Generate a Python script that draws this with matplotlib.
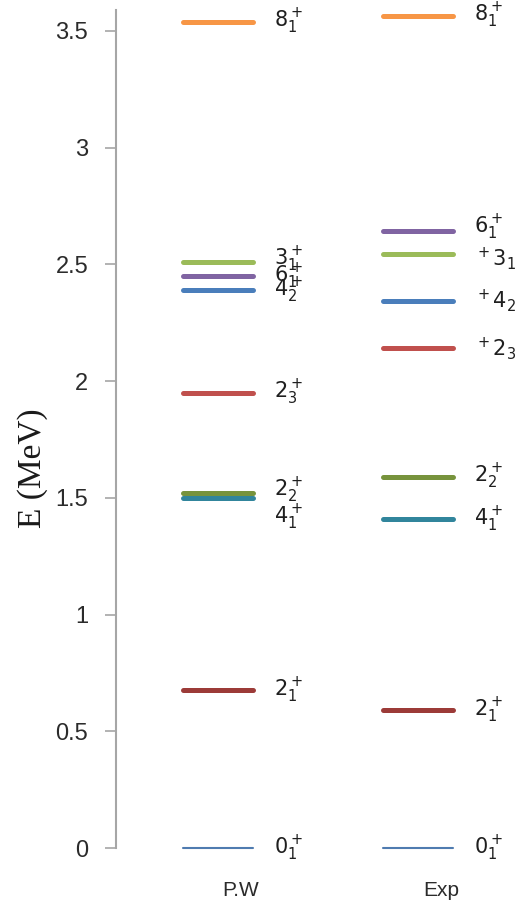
import matplotlib
matplotlib.use('Agg')
import matplotlib.pyplot as plt

# levels, MeV
states = ['0_1', '2_1', '4_1', '2_2', '2_3', '4_2', '6_1', '3_1', '8_1']
pw_energy = [0.0, 0.677, 1.50, 1.52, 1.95, 2.39, 2.45, 2.51, 3.54]
exp_energy = [0.0, 0.591, 1.41, 1.59, 2.14, 2.345, 2.645, 2.545, 3.565]
pw_labels = [r'$0_1^+$', r'$2_1^+$', r'$4_1^+$', r'$2_2^+$', r'$2_3^+$',
             r'$4_2^+$', r'$6_1^+$', r'$3_1^+$', r'$8_1^+$']
exp_labels = [r'$0_1^+$', r'$2_1^+$', r'$4_1^+$', r'$2_2^+$', r'$^+2_3$',
              r'$^+4_2$', r'$6_1^+$', r'$^+3_1$', r'$8_1^+$']
columns = ['P.W', 'Exp']

colors = ['#4F7BB0', '#9C3B38', '#31859C', '#77933C', '#C0504D',
          '#4A7EBB', '#8064A2', '#9BBB59', '#F79646']
widths = [1.5, 3.6, 3.6, 3.6, 3.6, 3.6, 3.6, 3.6, 3.6]
# small label nudges (points) where the original labels were moved
pw_nudge = [0, 0, -14, 2, 0, 0, 0, 2, 0]
exp_nudge = [0, 0, 0, 0, 0, 0, 2, -3, 0]

plt.rcParams['mathtext.fontset'] = 'dejavusans'

fig = plt.figure(figsize=(5.2, 9.06), dpi=100)
ax = fig.add_axes([0.223, 0.064, 0.777, 0.925])

for col, (energies, labels, nudges) in enumerate(
        [(pw_energy, pw_labels, pw_nudge), (exp_energy, exp_labels, exp_nudge)]):
    xc = col + 1
    for e, lab, c, w, dy in zip(energies, labels, colors, widths, nudges):
        ax.plot([xc - 0.29, xc + 0.06], [e, e], color=c, lw=w,
                solid_capstyle='round', clip_on=False)
        ax.annotate(lab, xy=(xc + 0.165, e), xytext=(0, dy),
                    textcoords='offset points', va='center', ha='left',
                    fontsize=15, color='#1f1f1f', annotation_clip=False)

ax.set_xlim(0.375, 2.395)
ax.set_ylim(0, 3.59)
ax.set_yticks([0, 0.5, 1, 1.5, 2, 2.5, 3, 3.5])
ax.set_yticklabels(['0', '0.5', '1', '1.5', '2', '2.5', '3', '3.5'],
                   fontfamily='Liberation Sans', fontsize=17, color='#2b2b2b')
ax.set_xticks([1, 2])
ax.set_xticklabels(columns, fontfamily='Liberation Sans', fontsize=15,
                   color='#2b2b2b')
ax.tick_params(axis='x', length=0, pad=24)
ax.tick_params(axis='y', length=8, width=1.2, color='#a6a6a6', pad=12)

for s in ['top', 'right', 'bottom']:
    ax.spines[s].set_visible(False)
ax.spines['left'].set_color('#a6a6a6')
ax.spines['left'].set_linewidth(1.5)

fig.text(0.063, 1 - 468 / 906, 'E (MeV)', rotation=90, ha='center',
         va='center', fontfamily='Liberation Serif', fontsize=24,
         color='#1a1a1a')

fig.savefig('out.png', dpi=100)
